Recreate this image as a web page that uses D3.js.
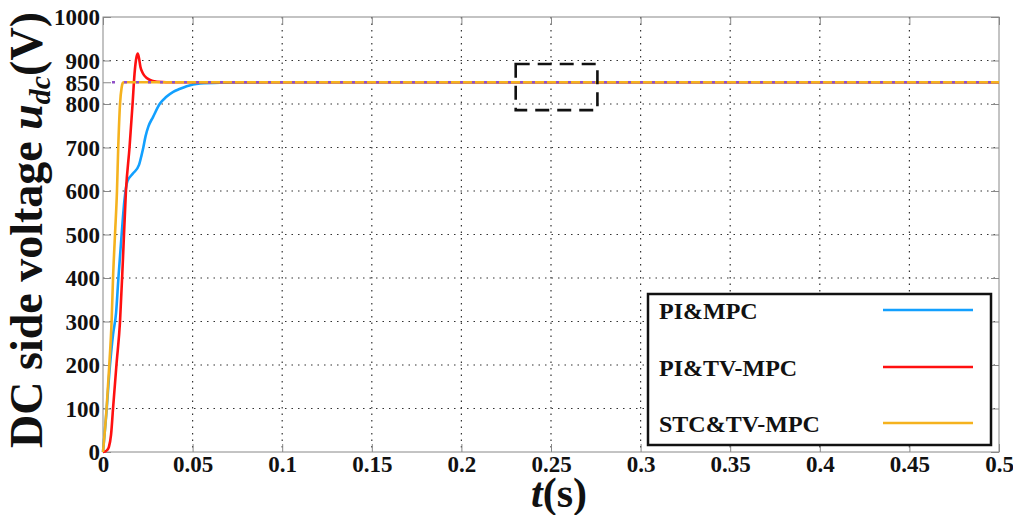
<!DOCTYPE html>
<html>
<head>
<meta charset="utf-8">
<script src="https://cdn.jsdelivr.net/npm/d3@7"></script>
<style>
  body { margin: 0; background: #fff; }
  svg { display: block; }
  text { font-family: "Liberation Serif", "Times New Roman", serif; font-weight: bold; fill: #111; }
</style>
</head>
<body>
<svg width="1013" height="515"></svg>
<script>
// axis ticks
var xTicks = [0, 0.05, 0.1, 0.15, 0.2, 0.25, 0.3, 0.35, 0.4, 0.45, 0.5];
var xTickLabels = ["0", "0.05", "0.1", "0.15", "0.2", "0.25", "0.3", "0.35", "0.4", "0.45", "0.5"];
var yTicks = [0, 100, 200, 300, 400, 500, 600, 700, 800, 850, 900, 1000];
var yTickLabels = ["0", "100", "200", "300", "400", "500", "600", "700", "800", "850", "900", "1000"];

// series (time in s, voltage in V)
var blueT = [0, 0.0017, 0.0039, 0.0056, 0.0073, 0.0086, 0.0104, 0.012, 0.0136, 0.0167, 0.0201, 0.0215, 0.0225, 0.0237, 0.0253, 0.0279, 0.0318, 0.0352, 0.0392, 0.043, 0.0467, 0.0541, 0.0653, 0.082, 0.1044, 0.5];
var blueV = [0, 80, 200, 270, 320, 400, 500, 580, 622, 640, 660, 682, 700, 725, 748, 770, 801, 816, 828, 835, 841, 847, 849, 849.7, 850, 850];

var redT = [0, 0.0011, 0.0022, 0.0033, 0.0045, 0.0056, 0.0075, 0.0095, 0.0112, 0.0128, 0.0148, 0.0165, 0.0176, 0.0187, 0.0194, 0.0201, 0.0209, 0.0223, 0.0246, 0.0279, 0.0329, 0.0374, 0.5];
var redV = [0, 1, 4, 12, 40, 100, 200, 300, 450, 600, 700, 800, 870, 908, 916, 905, 885, 870, 859, 853, 850.5, 850, 850];

var yellowT = [0, 0.002, 0.0035, 0.0048, 0.0056, 0.0067, 0.0078, 0.0085, 0.0095, 0.0104, 0.011, 0.0117, 0.5];
var yellowV = [0, 100, 200, 300, 400, 500, 600, 700, 800, 838, 848, 850, 850];

var refValue = 850;
var seriesNames = ["PI&MPC", "PI&TV-MPC", "STC&TV-MPC"];
var seriesColors = ["#12a0ff", "#ff1010", "#f5b21e"];

// zoom box in data units
var boxT = [0.2303, 0.2759];
var boxV = [786, 892];

var svg = d3.select("svg");
var mLeft = 103, mRight = 999, mTop = 17, mBottom = 452;

var x = d3.scaleLinear().domain([0, 0.5]).range([mLeft, mRight]);
var y = d3.scaleLinear().domain([0, 1000]).range([mBottom, mTop]);

// grid
var gGrid = svg.append("g");
gGrid.selectAll("line.gx")
  .data(xTicks.slice(1, -1))
  .enter().append("line")
  .attr("x1", d => x(d)).attr("x2", d => x(d))
  .attr("y1", mTop).attr("y2", mBottom)
  .attr("stroke", "#333").attr("stroke-width", 1.2)
  .attr("stroke-dasharray", "1.5,5");
gGrid.selectAll("line.gy")
  .data(yTicks.filter(d => d > 0 && d < 1000 && d != refValue))
  .enter().append("line")
  .attr("x1", mLeft).attr("x2", mRight)
  .attr("y1", d => y(d)).attr("y2", d => y(d))
  .attr("stroke", "#333").attr("stroke-width", 1.2)
  .attr("stroke-dasharray", "1.5,5");

// frame
svg.append("rect")
  .attr("x", mLeft).attr("y", mTop)
  .attr("width", mRight - mLeft).attr("height", mBottom - mTop)
  .attr("fill", "none").attr("stroke", "#888").attr("stroke-width", 1);

// axes (ticks inward)
var xAxis = d3.axisBottom(x).tickValues(xTicks).tickSize(-8).tickPadding(6)
  .tickFormat((d, i) => xTickLabels[i]);
var gx = svg.append("g").attr("transform", "translate(0," + mBottom + ")").call(xAxis);
gx.select(".domain").remove();
gx.selectAll(".tick line").attr("stroke", "#888");
gx.selectAll(".tick text").attr("font-size", 23).attr("dy", "0.62em")
  .style("font-family", "Liberation Serif, serif").style("font-weight", "bold").attr("fill", "#222");

var gxt = svg.append("g").attr("transform", "translate(0," + mTop + ")")
  .call(d3.axisTop(x).tickValues(xTicks).tickSize(-8).tickFormat(""));
gxt.select(".domain").remove();
gxt.selectAll(".tick line").attr("stroke", "#888");

var yAxis = d3.axisLeft(y).tickValues(yTicks).tickSize(-8).tickPadding(3)
  .tickFormat((d, i) => yTickLabels[i]);
var gy = svg.append("g").attr("transform", "translate(" + mLeft + ",0)").call(yAxis);
gy.select(".domain").remove();
gy.selectAll(".tick line").attr("stroke", "#888");
gy.selectAll(".tick text").attr("font-size", 23).attr("dy", "0.34em")
  .style("font-family", "Liberation Serif, serif").style("font-weight", "bold").attr("fill", "#222");

var gyr = svg.append("g").attr("transform", "translate(" + mRight + ",0)")
  .call(d3.axisRight(y).tickValues(yTicks).tickSize(-8).tickFormat(""));
gyr.select(".domain").remove();
gyr.selectAll(".tick line").attr("stroke", "#888");

// curves
var line = d3.line()
  .x(d => x(d[0])).y(d => y(d[1]))
  .curve(d3.curveMonotoneX);

var allSeries = [
  d3.zip(blueT, blueV),
  d3.zip(redT, redV),
  d3.zip(yellowT, yellowV)
];

svg.append("g").selectAll("path")
  .data(allSeries)
  .enter().append("path")
  .attr("d", line)
  .attr("fill", "none")
  .attr("stroke", (d, i) => seriesColors[i])
  .attr("stroke-width", 2.6)
  .attr("stroke-linejoin", "round");

// reference 850 V
svg.append("line")
  .attr("x1", mLeft + 9).attr("x2", mRight)
  .attr("y1", y(refValue)).attr("y2", y(refValue))
  .attr("stroke", "#9050c8").attr("stroke-width", 2.6)
  .attr("stroke-dasharray", "3,9");

// dashed zoom box
svg.append("rect")
  .attr("x", x(boxT[0])).attr("y", y(boxV[1]))
  .attr("width", x(boxT[1]) - x(boxT[0]))
  .attr("height", y(boxV[0]) - y(boxV[1]))
  .attr("fill", "none").attr("stroke", "#111").attr("stroke-width", 2.6)
  .attr("stroke-dasharray", "14,8");

// legend
var legend = svg.append("g");
legend.append("rect")
  .attr("x", 648).attr("y", 294).attr("width", 343).attr("height", 151)
  .attr("fill", "#fff").attr("stroke", "#111").attr("stroke-width", 2.5);
var legY = [310, 367, 423];
seriesNames.forEach(function(name, i) {
  legend.append("text")
    .attr("x", 659).attr("y", legY[i] + 9)
    .attr("font-size", 24)
    .text(name);
  legend.append("line")
    .attr("x1", 883).attr("x2", 973)
    .attr("y1", legY[i]).attr("y2", legY[i])
    .attr("stroke", seriesColors[i]).attr("stroke-width", 2.6);
});

// axis titles
var xt = svg.append("text")
  .attr("x", 559).attr("y", 507)
  .attr("text-anchor", "middle")
  .attr("font-size", 42);
xt.append("tspan").attr("font-style", "italic").text("t");
xt.append("tspan").text("(s)");

var yt = svg.append("text")
  .attr("transform", "translate(42,230) rotate(-90)")
  .attr("text-anchor", "middle")
  .attr("font-size", 46);
yt.append("tspan").text("DC side voltage ");
yt.append("tspan").attr("font-style", "italic").text("u");
yt.append("tspan").attr("font-style", "italic").attr("font-size", 30).attr("dy", 8).text("dc");
yt.append("tspan").attr("dy", -8).text("(V)");
</script>
</body>
</html>
